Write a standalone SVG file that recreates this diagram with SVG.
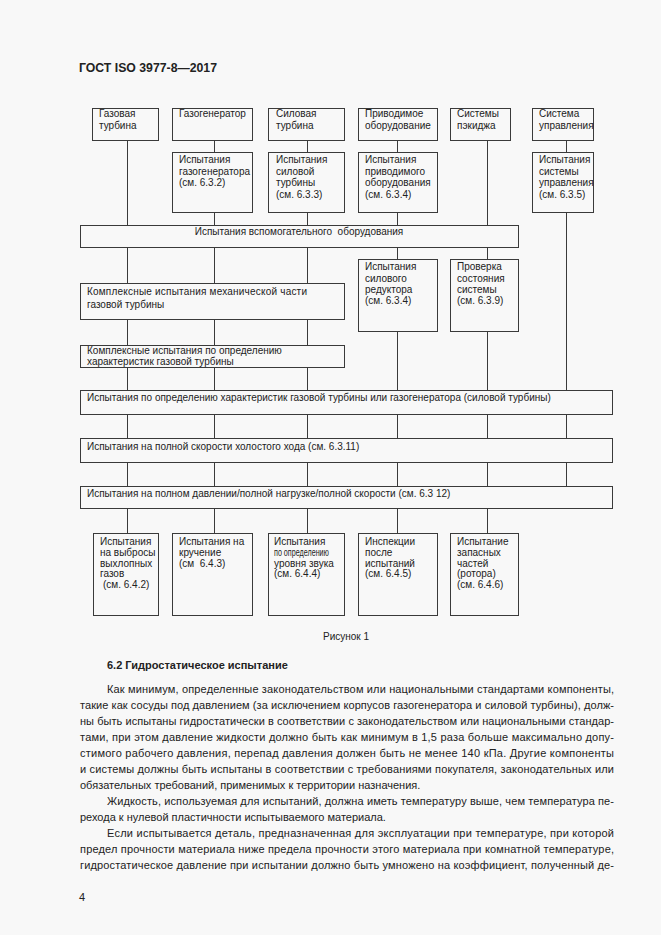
<svg xmlns="http://www.w3.org/2000/svg" width="661" height="935" viewBox="0 0 661 935">
<style>
.bg{fill:#f8f8f8}
.box{fill:#f8f8f8;stroke:#3a3a3a;stroke-width:1}
.conn{fill:none;stroke:#3a3a3a;stroke-width:1}
.t{font-family:"Liberation Sans",Arial,sans-serif;font-size:10px;fill:#222}
.b{font-family:"Liberation Sans",Arial,sans-serif;font-size:11px;fill:#222}
.h{font-family:"Liberation Sans",Arial,sans-serif;font-size:11px;font-weight:bold;fill:#222}
</style>
<rect class="bg" x="0" y="0" width="661" height="935"/>
<text class="h" x="79" y="72" style="font-size:12px" textLength="138" lengthAdjust="spacingAndGlyphs">ГОСТ ISO 3977-8—2017</text>

<g id="connectors">
<path class="conn" d="M127.5 140.5V225.5M127.5 247.5V283.5M127.5 319.5V345.5M127.5 367.5V390.5M127.5 414.5V438.5M127.5 462.5V486.5M127.5 508.5V533.5
M214.5 140.5V152.5M214.5 212.5V225.5M214.5 247.5V283.5M214.5 319.5V345.5M214.5 367.5V390.5M214.5 414.5V438.5M214.5 462.5V486.5M214.5 508.5V533.5
M307.5 140.5V152.5M307.5 212.5V225.5M307.5 247.5V283.5M307.5 319.5V345.5M307.5 367.5V390.5M307.5 414.5V438.5M307.5 462.5V486.5M307.5 508.5V533.5
M397.5 140.5V152.5M397.5 212.5V225.5M397.5 247.5V259.5M397.5 331.5V390.5M397.5 414.5V438.5M397.5 462.5V486.5M397.5 508.5V533.5
M487.5 140.5V225.5M487.5 247.5V259.5M487.5 331.5V390.5M487.5 414.5V438.5M487.5 462.5V486.5M487.5 508.5V533.5
M566.5 140.5V152.5M566.5 212.5V390.5M566.5 414.5V438.5M566.5 462.5V486.5"/>
</g>

<g id="n-gas-turbine"><rect class="box" x="92.5" y="108.5" width="66" height="32"/>
<text class="t" x="99" y="117">Газовая</text><text class="t" x="99" y="129">турбина</text></g>
<g id="n-gasgen"><rect class="box" x="172.5" y="108.5" width="80" height="32"/>
<text class="t" x="179" y="117">Газогенератор</text></g>
<g id="n-power-turbine"><rect class="box" x="268.5" y="108.5" width="76" height="32"/>
<text class="t" x="276" y="117">Силовая</text><text class="t" x="276" y="129">турбина</text></g>
<g id="n-driven"><rect class="box" x="358.5" y="108.5" width="79" height="32"/>
<text class="t" x="365" y="117">Приводимое</text><text class="t" x="365" y="129">оборудование</text></g>
<g id="n-package"><rect class="box" x="450.5" y="108.5" width="60" height="32"/>
<text class="t" x="457" y="117">Системы</text><text class="t" x="457" y="129">пэкиджа</text></g>
<g id="n-control"><rect class="box" x="532.5" y="108.5" width="61" height="32"/>
<text class="t" x="539" y="117">Система</text><text class="t" x="539" y="129">управления</text></g>

<g id="n-test-gasgen"><rect class="box" x="172.5" y="152.5" width="80" height="60"/>
<text class="t" x="179" y="163">Испытания</text><text class="t" x="179" y="175">газогенератора</text><text class="t" x="179" y="186">(см. 6.3.2)</text></g>
<g id="n-test-pt"><rect class="box" x="268.5" y="152.5" width="76" height="60"/>
<text class="t" x="276" y="163">Испытания</text><text class="t" x="276" y="175">силовой</text><text class="t" x="276" y="186">турбины</text><text class="t" x="276" y="198">(см. 6.3.3)</text></g>
<g id="n-test-driven"><rect class="box" x="358.5" y="152.5" width="79" height="60"/>
<text class="t" x="365" y="163">Испытания</text><text class="t" x="365" y="175">приводимого</text><text class="t" x="365" y="186">оборудования</text><text class="t" x="365" y="198">(см. 6.3.4)</text></g>
<g id="n-test-control"><rect class="box" x="532.5" y="152.5" width="61" height="60"/>
<text class="t" x="539" y="163">Испытания</text><text class="t" x="539" y="175">системы</text><text class="t" x="539" y="186">управления</text><text class="t" x="539" y="198">(см. 6.3.5)</text></g>

<g id="n-aux"><rect class="box" x="80.5" y="225.5" width="438" height="22"/>
<text class="t" x="299" y="235" text-anchor="middle" xml:space="preserve">Испытания вспомогательного  оборудования</text></g>

<g id="n-gearbox"><rect class="box" x="358.5" y="259.5" width="79" height="72"/>
<text class="t" x="365" y="270">Испытания</text><text class="t" x="365" y="281.5">силового</text><text class="t" x="365" y="292.5">редуктора</text><text class="t" x="365" y="303.5">(см. 6.3.4)</text></g>
<g id="n-condition"><rect class="box" x="450.5" y="259.5" width="68" height="72"/>
<text class="t" x="457" y="270">Проверка</text><text class="t" x="457" y="281.5">состояния</text><text class="t" x="457" y="292.5">системы</text><text class="t" x="457" y="303.5">(см. 6.3.9)</text></g>

<g id="n-mech"><rect class="box" x="80.5" y="283.5" width="264" height="36"/>
<text class="t" x="87" y="295" textLength="220" lengthAdjust="spacing">Комплексные испытания механической части</text><text class="t" x="87" y="308">газовой турбины</text></g>
<g id="n-perf"><rect class="box" x="80.5" y="345.5" width="264" height="22"/>
<text class="t" x="87" y="354">Комплексные испытания по определению</text><text class="t" x="87" y="365">характеристик газовой турбины</text></g>

<g id="n-perf-all"><rect class="box" x="80.5" y="390.5" width="532" height="24"/>
<text class="t" x="87" y="401">Испытания по определению характеристик газовой турбины или газогенератора (силовой турбины)</text></g>
<g id="n-idle"><rect class="box" x="80.5" y="438.5" width="532" height="24"/>
<text class="t" x="87" y="450">Испытания на полной скорости холостого хода (см. 6.3.11)</text></g>
<g id="n-full"><rect class="box" x="80.5" y="486.5" width="532" height="22"/>
<text class="t" x="87" y="497">Испытания на полном давлении/полной нагрузке/полной скорости (см. 6.3 12)</text></g>

<g id="n-emissions"><rect class="box" x="93.5" y="533.5" width="65" height="82"/>
<text class="t" x="100" y="545">Испытания</text><text class="t" x="100" y="556">на выбросы</text><text class="t" x="100" y="567">выхлопных</text><text class="t" x="100" y="577">газов</text><text class="t" x="103" y="588">(см. 6.4.2)</text></g>
<g id="n-torsion"><rect class="box" x="172.5" y="533.5" width="80" height="82"/>
<text class="t" x="179" y="545">Испытания на</text><text class="t" x="179" y="556">кручение</text><text class="t" x="179" y="567" xml:space="preserve">(см  6.4.3)</text></g>
<g id="n-noise"><rect class="box" x="268.5" y="533.5" width="76" height="82"/>
<text class="t" x="274" y="545">Испытания</text><text class="t" x="274" y="556" textLength="55" lengthAdjust="spacingAndGlyphs">по определению</text><text class="t" x="274" y="567">уровня звука</text><text class="t" x="274" y="577">(см. 6.4.4)</text></g>
<g id="n-inspection"><rect class="box" x="358.5" y="533.5" width="79" height="82"/>
<text class="t" x="365" y="545">Инспекции</text><text class="t" x="365" y="556">после</text><text class="t" x="365" y="567">испытаний</text><text class="t" x="365" y="577">(см. 6.4.5)</text></g>
<g id="n-spares"><rect class="box" x="450.5" y="533.5" width="68" height="82"/>
<text class="t" x="457" y="545">Испытание</text><text class="t" x="457" y="556">запасных</text><text class="t" x="457" y="567">частей</text><text class="t" x="457" y="577">(ротора)</text><text class="t" x="457" y="588">(см. 6.4.6)</text></g>

<text class="t" x="346" y="640" text-anchor="middle">Рисунок 1</text>

<text class="h" x="107" y="669">6.2 Гидростатическое испытание</text>
<text class="b" x="107" y="693" textLength="507" lengthAdjust="spacing">Как минимум, определенные законодательством или национальными стандартами компоненты,</text>
<text class="b" x="80" y="709" textLength="534" lengthAdjust="spacing">такие как сосуды под давлением (за исключением корпусов газогенератора и силовой турбины), долж-</text>
<text class="b" x="80" y="725" textLength="534" lengthAdjust="spacing">ны быть испытаны гидростатически в соответствии с законодательством или национальными стандар-</text>
<text class="b" x="80" y="741" textLength="534" lengthAdjust="spacing">тами, при этом давление жидкости должно быть как минимум в 1,5 раза больше максимально допу-</text>
<text class="b" x="80" y="757" textLength="534" lengthAdjust="spacing">стимого рабочего давления, перепад давления должен быть не менее 140 кПа. Другие компоненты</text>
<text class="b" x="80" y="773" textLength="534" lengthAdjust="spacing">и системы должны быть испытаны в соответствии с требованиями покупателя, законодательных или</text>
<text class="b" x="80" y="789">обязательных требований, применимых к территории назначения.</text>
<text class="b" x="107" y="805" textLength="507" lengthAdjust="spacing">Жидкость, используемая для испытаний, должна иметь температуру выше, чем температура пе-</text>
<text class="b" x="80" y="821">рехода к нулевой пластичности испытываемого материала.</text>
<text class="b" x="107" y="837" textLength="507" lengthAdjust="spacing">Если испытывается деталь, предназначенная для эксплуатации при температуре, при которой</text>
<text class="b" x="80" y="853" textLength="534" lengthAdjust="spacing">предел прочности материала ниже предела прочности этого материала при комнатной температуре,</text>
<text class="b" x="80" y="869" textLength="534" lengthAdjust="spacing">гидростатическое давление при испытании должно быть умножено на коэффициент, полученный де-</text>
<text class="b" x="79" y="901">4</text>
</svg>
